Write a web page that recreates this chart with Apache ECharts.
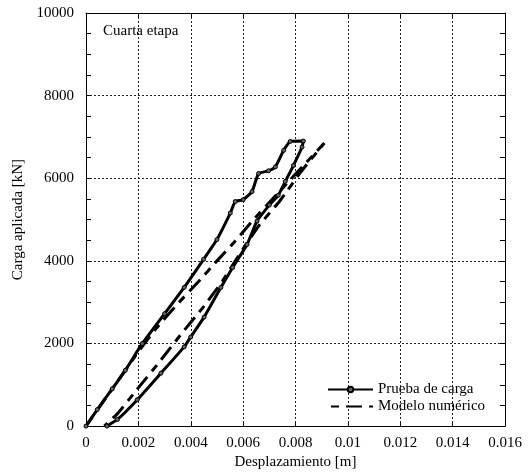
<!DOCTYPE html>
<html>
<head>
<meta charset="utf-8">
<script src="https://cdn.jsdelivr.net/npm/echarts@6/dist/echarts.min.js"></script>
<style>
  html, body { margin: 0; padding: 0; background: #fff; }
  #chart { width: 528px; height: 475px; }
</style>
</head>
<body>
<div id="chart"></div>
<script>
// Load test: loading branch followed by the unloading branch (m, kN)
const testDisp = [0, 0.00043, 0.0010, 0.0015, 0.00215, 0.0030, 0.00375, 0.00449, 0.0050, 0.00551, 0.0057, 0.0060,
  0.00634, 0.00659, 0.00697, 0.00723, 0.00755, 0.0078, 0.0083,
  0.00825, 0.00792, 0.00761, 0.00734, 0.0070, 0.00653, 0.00615, 0.0056, 0.00515, 0.00451, 0.0040, 0.00375,
  0.00286, 0.00196, 0.0012, 0.0008];
const testLoad = [0, 400, 900, 1350, 2000, 2720, 3357, 4036, 4516, 5156, 5436, 5480,
  5676, 6115, 6179, 6275, 6675, 6890, 6900,
  6755, 6307, 5923, 5587, 5350, 4964, 4396, 3840, 3357, 2638, 2158, 1918,
  1280, 640, 160, 0];

// Numerical model: loading then unloading (m, kN)
const modelDisp = [0, 0.0010, 0.0020, 0.0027, 0.0035, 0.0043, 0.0050, 0.0057, 0.0064, 0.0072, 0.0080, 0.0091,
  0.0082, 0.0074, 0.0066, 0.0058, 0.0052, 0.0045, 0.0036, 0.0028, 0.0019, 0.0012, 0.0007];
const modelLoad = [0, 900, 1800, 2380, 2960, 3500, 4000, 4480, 5000, 5550, 6100, 6850,
  6150, 5450, 4850, 4100, 3500, 2900, 2200, 1550, 850, 300, 0];

const xTickLabels = ['0', '0.002', '0.004', '0.006', '0.008', '0.01', '0.012', '0.014', '0.016'];
const yTickLabels = ['0', '2000', '4000', '6000', '8000', '10000'];

const FONT = 'Liberation Serif';
const pairs = (xs, ys) => xs.map((x, i) => [x, ys[i]]);

const chart = echarts.init(document.getElementById('chart'), null, { renderer: 'canvas' });

const gridDots = { show: true, lineStyle: { color: '#222', width: 1, type: [2, 2] } };
const axisLine = { show: true, onZero: false, lineStyle: { color: '#000', width: 1 } };
const tickIn = { show: true, inside: true, length: 5, lineStyle: { color: '#000' } };

chart.setOption({
  animation: false,
  backgroundColor: '#fff',
  textStyle: { fontFamily: FONT, color: '#000' },
  title: {
    text: 'Cuarta etapa',
    left: 98, top: 19,
    textStyle: { fontFamily: FONT, fontSize: 15, fontWeight: 'normal', color: '#000' }
  },
  grid: { left: 86, right: 23, top: 13, bottom: 45 },
  legend: {
    orient: 'vertical',
    left: 322, top: 377,
    itemWidth: 45, itemHeight: 7, itemGap: 2,
    textStyle: { fontFamily: FONT, fontSize: 15, color: '#000' },
    data: [
      { name: 'Prueba de carga' },
      { name: 'Modelo numérico', itemStyle: { opacity: 0 } }
    ]
  },
  xAxis: [{
    type: 'value', min: 0, max: 0.016, interval: 0.002,
    name: 'Desplazamiento [m]', nameLocation: 'middle', nameGap: 27,
    nameTextStyle: { fontFamily: FONT, fontSize: 15, color: '#000' },
    axisLine: axisLine, axisTick: tickIn,
    axisLabel: { margin: 9, fontFamily: FONT, fontSize: 15, color: '#000',
      formatter: (v, i) => xTickLabels[i] },
    splitLine: gridDots
  }, {
    type: 'value', position: 'top', min: 0, max: 0.016, interval: 0.002,
    axisLine: axisLine, axisTick: tickIn, axisLabel: { show: false }, splitLine: { show: false }
  }],
  yAxis: [{
    type: 'value', min: 0, max: 10000, interval: 2000,
    name: 'Carga aplicada [kN]', nameLocation: 'middle', nameGap: 56,
    nameTextStyle: { fontFamily: FONT, fontSize: 15, color: '#000' },
    axisLine: axisLine, axisTick: tickIn,
    minorTick: { show: true, splitNumber: 4, length: 5, lineStyle: { color: '#000' } },
    axisLabel: { margin: 12, fontFamily: FONT, fontSize: 15, color: '#000',
      formatter: (v, i) => yTickLabels[i] },
    splitLine: gridDots
  }, {
    type: 'value', position: 'right', min: 0, max: 10000, interval: 2000,
    axisLine: axisLine, axisTick: tickIn,
    minorTick: { show: true, splitNumber: 4, length: 5, lineStyle: { color: '#000' } },
    axisLabel: { show: false }, splitLine: { show: false }
  }],
  series: [{
    name: 'Prueba de carga',
    type: 'line',
    xAxisIndex: 0, yAxisIndex: 0,
    data: pairs(testDisp, testLoad),
    smooth: 0.15,
    symbol: 'circle', symbolSize: 4, showSymbol: true,
    itemStyle: { color: '#666', borderColor: '#000', borderWidth: 1 },
    lineStyle: { color: '#000', width: 3 },
    z: 3
  }, {
    name: 'Modelo numérico',
    type: 'line',
    xAxisIndex: 0, yAxisIndex: 0,
    data: pairs(modelDisp, modelLoad),
    smooth: 0.15,
    symbol: 'none', showSymbol: false,
    itemStyle: { color: '#000' },
    lineStyle: { color: '#000', width: 3, type: [16, 7, 8, 7], dashOffset: 20 },
    z: 2
  }]
});
</script>
</body>
</html>
